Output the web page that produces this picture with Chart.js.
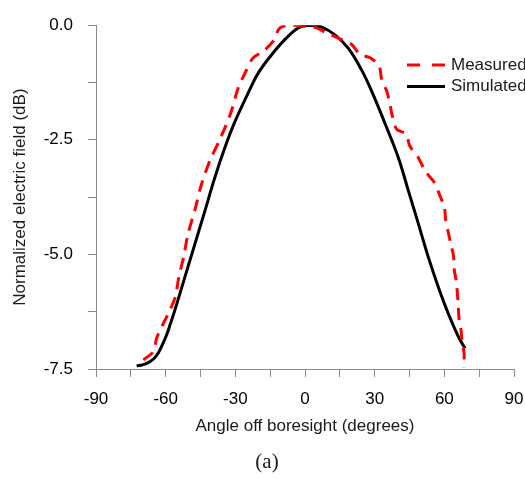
<!DOCTYPE html>
<html>
<head>
<meta charset="utf-8">
<script src="https://cdn.jsdelivr.net/npm/chart.js@4.4.1/dist/chart.umd.min.js"></script>
<style>
  html, body { margin: 0; padding: 0; background: #fff; }
</style>
</head>
<body>
<canvas id="chart" width="525" height="479"></canvas>
<script>
// angle off boresight (deg) and normalized field (dB)
const simAngle = [-72.5, -70, -67.5, -65, -63.2, -61.5, -59.6, -58, -56, -51.7, -47.4, -43.1, -38.8, -34.5, -30.4, -24.4, -20.1, -14.3, -8.6, -2.9, 2.2, 7.2, 12.9, 18.6, 24.4, 28.7, 34.5, 40.2, 44.5, 48.8, 53.1, 57.4, 61.7, 66, 68.9];
const simField = [-7.43, -7.41, -7.36, -7.27, -7.15, -6.98, -6.76, -6.52, -6.21, -5.49, -4.77, -4.05, -3.32, -2.67, -2.13, -1.47, -1.04, -0.64, -0.31, -0.06, 0.0, -0.04, -0.21, -0.50, -0.98, -1.44, -2.15, -2.89, -3.61, -4.33, -5.06, -5.71, -6.29, -6.79, -7.05];

const measAngle = [-69.6, -65.3, -63.9, -61.7, -58.9, -56, -54.3, -52.4, -50.3, -47.4, -44.7, -40.9, -36.2, -32, -28.7, -25.1, -22.3, -18, -13.7, -10.8, -5.7, -1, 2.2, 5, 9.3, 14.3, 20.1, 23.7, 28, 31.9, 33, 35.2, 36.6, 37.6, 39.5, 43.4, 45.2, 48.8, 51.7, 55.7, 58.1, 60, 60.6, 61.7, 62.9, 63.9, 64.3, 65.2, 65.6, 66, 66.3, 67.2, 67.7, 68.5, 68.4];
const measField = [-7.30, -7.12, -6.83, -6.58, -6.29, -5.95, -5.49, -5.08, -4.54, -4.03, -3.49, -2.95, -2.44, -1.92, -1.36, -0.97, -0.71, -0.57, -0.35, -0.06, 0.0, -0.01, -0.03, -0.06, -0.17, -0.28, -0.42, -0.64, -0.71, -0.89, -1.18, -1.44, -1.73, -1.98, -2.27, -2.37, -2.64, -2.89, -3.18, -3.43, -3.72, -3.97, -4.26, -4.52, -4.80, -5.02, -5.35, -5.60, -5.85, -6.11, -6.39, -6.65, -6.94, -7.15, -7.48];

const xLabelTicks = [-90, -60, -30, 0, 30, 60, 90];
const yLabelTicks = [0, -2.5, -5, -7.5];

const FONT = "'Liberation Sans', Arial, sans-serif";
const AXIS_GRAY = "#8a8a8a";

function pairs(xs, ys) {
  return xs.map((x, i) => ({ x: x, y: ys[i] }));
}

// legend sits partly past the right edge, as in the figure
const sideLegend = {
  id: "sideLegend",
  afterDraw(chart) {
    const ctx = chart.ctx;
    const rows = [
      { y: 65, color: "#ff0000", dash: [13, 12] },
      { y: 86.5, color: "#000000", dash: [] }
    ];
    ctx.save();
    rows.forEach((row, i) => {
      ctx.strokeStyle = row.color;
      ctx.lineWidth = 3;
      ctx.setLineDash(row.dash);
      ctx.beginPath();
      ctx.moveTo(407, row.y);
      ctx.lineTo(445, row.y);
      ctx.stroke();
      ctx.setLineDash([]);
      ctx.fillStyle = "#1a1a1a";
      ctx.font = "17px " + FONT;
      ctx.textBaseline = "middle";
      ctx.textAlign = "left";
      ctx.fillText(chart.data.datasets[i].label, 451, row.y);
    });
    ctx.restore();
  }
};

const caption = {
  id: "caption",
  afterDraw(chart) {
    const ctx = chart.ctx;
    ctx.save();
    ctx.fillStyle = "#1a1a1a";
    ctx.font = "21px 'Liberation Serif', 'Times New Roman', serif";
    ctx.textAlign = "center";
    ctx.textBaseline = "middle";
    ctx.fillText("(a)", 267, 462);
    ctx.restore();
  }
};

new Chart(document.getElementById("chart"), {
  type: "line",
  data: {
    datasets: [
      {
        label: "Measured",
        data: pairs(measAngle, measField),
        borderColor: "#ff0000",
        borderWidth: 3,
        borderDash: [12, 8],
        pointRadius: 0,
        tension: 0.3,
        fill: false
      },
      {
        label: "Simulated",
        data: pairs(simAngle, simField),
        borderColor: "#000000",
        borderWidth: 3,
        pointRadius: 0,
        tension: 0.4,
        fill: false
      }
    ]
  },
  plugins: [sideLegend, caption],
  options: {
    responsive: false,
    animation: false,
    layout: { padding: { left: 0, right: 0, top: 22, bottom: 0 } },
    plugins: {
      legend: { display: false },
      tooltip: { enabled: false }
    },
    scales: {
      x: {
        type: "linear",
        min: -90,
        max: 90,
        afterFit(scale) {
          scale.height = 110;
          scale.paddingRight = 11;
        },
        ticks: {
          stepSize: 15,
          padding: 12,
          color: "#000",
          font: { family: FONT, size: 17 },
          maxRotation: 0,
          autoSkip: false,
          callback: (v) => (xLabelTicks.includes(v) ? String(v) : "")
        },
        grid: { drawOnChartArea: false, tickLength: 8, color: AXIS_GRAY },
        border: { color: AXIS_GRAY },
        title: {
          display: true,
          text: "Angle off boresight (degrees)",
          color: "#1a1a1a",
          font: { family: FONT, size: 17 },
          padding: { top: 0, bottom: 42 }
        }
      },
      y: {
        min: -7.5,
        max: 0,
        afterFit(scale) { scale.width = 96; },
        ticks: {
          stepSize: 1.25,
          padding: 15,
          color: "#000",
          font: { family: FONT, size: 17 },
          autoSkip: false,
          callback: (v) => (yLabelTicks.includes(v) ? v.toFixed(1) : "")
        },
        grid: { drawOnChartArea: false, tickLength: 8, color: AXIS_GRAY },
        border: { color: AXIS_GRAY },
        title: {
          display: true,
          text: "Normalized electric field (dB)",
          color: "#1a1a1a",
          font: { family: FONT, size: 17 },
          padding: { top: 10, bottom: 0 }
        }
      }
    }
  }
});
</script>
</body>
</html>
